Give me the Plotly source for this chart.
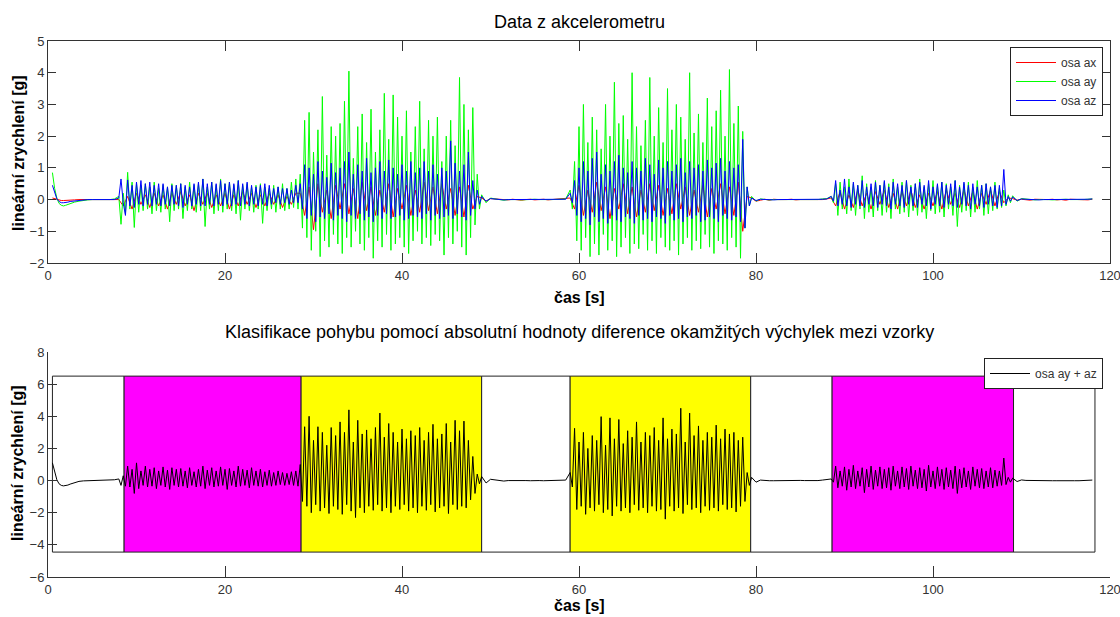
import numpy as np
import plotly.graph_objects as go

# ---------------- data ----------------
# piece start times [s] and sampling steps [s]
SEG_T0 = [0.5, 2.5, 8.0, 28.5, 49.0, 59.0, 79.5, 88.5, 109.0]
SEG_DT = [0.25, 0.5, 0.25, 0.25, 0.5, 0.25, 0.5, 0.25, 0.5]
SEG_DT_X = [0.25, 0.5, 0.5, 0.5, 0.5, 0.5, 0.5, 0.5, 0.5]

# ---- axis x (red)
ax_start = [0.05, 0.03, 0.0, -0.02, -0.03, -0.03, -0.03, -0.03]
ax_rest0 = [-0.02, -0.01, 0, 0, 0, 0, 0, 0, 0, 0, 0.01]
ax_walk1 = [0.0, -0.2, 0.1, -0.3, 0.2, -0.15, 0.15, -0.25, 0.2, -0.2,
            0.15, -0.3, 0.2, -0.15, 0.25, -0.2, 0.15, -0.35, 0.2, -0.15,
            0.2, -0.25, 0.15, -0.2, 0.2, -0.3, 0.15, -0.2, 0.25, -0.15,
            0.2, -0.25, 0.15, -0.2, 0.2, -0.15, 0.15, -0.25, 0.1, -0.15,
            0.2]
ax_run1 = [0.2, -0.5, 0.4, -0.95, 0.5, -0.4, 0.3, -0.6, 0.45, -0.3,
           0.5, -0.45, 0.35, -0.6, 0.55, -0.35, 0.4, -0.5, 0.3, -0.4,
           0.5, -0.55, 0.35, -0.3, 0.45, -0.5, 0.3, -0.4, 0.55, -0.35,
           0.4, -0.45, 0.5, -0.3, 0.35, -0.5, 0.4, -0.55, 0.45, -0.3,
           0.1]
ax_rest1 = [0.05, -0.05, 0.03, 0.02, 0.01, -0.02, -0.01, 0.01, 0, -0.02,
            0, 0.01, -0.01, 0, 0.01, -0.01, 0, 0, 0.01, 0.02]
ax_run2 = [0.05, -0.3, 0.45, -0.5, 0.3, -0.4, 0.55, -0.35, 0.4, -0.6,
           0.35, -0.3, 0.5, -0.45, 0.4, -0.55, 0.3, -0.4, 0.5, -0.35,
           0.45, -0.5, 0.35, -0.45, 0.5, -0.3, 0.4, -0.5, 0.3, -0.4,
           0.45, -0.55, 0.35, -0.3, 0.5, -0.45, 0.4, -0.5, 0.55, -1.0,
           0.1]
ax_rest2 = [0.05, -0.05, -0.02, 0.01, -0.02, 0.01, 0, -0.01, 0, 0.01,
            -0.01, 0, 0, 0.01, 0, -0.01, 0, 0.02]
ax_walk2 = [0.05, -0.2, 0.25, -0.3, 0.15, -0.25, 0.3, -0.2, 0.2, -0.3,
            0.25, -0.15, 0.3, -0.25, 0.2, -0.3, 0.25, -0.2, 0.3, -0.25,
            0.15, -0.3, 0.2, -0.2, 0.25, -0.3, 0.3, -0.15, 0.2, -0.25,
            0.3, -0.2, 0.25, -0.3, 0.2, -0.15, 0.3, -0.2, 0.25, -0.1,
            0.05]
ax_rest3 = [0.03, -0.02, 0.01, 0, -0.02, 0.01, 0, -0.01, 0, 0.01,
            -0.01, 0, -0.02, 0.01, 0, -0.01, 0, -0.01, 0.01]

# ---- axis y (green)
ay_start = [0.85, 0.35, 0.05, -0.12, -0.18, -0.2, -0.18, -0.15]
ay_rest0 = [-0.12, -0.08, -0.05, -0.02, -0.01, 0, 0, -0.01, 0, 0, 0.02]
ay_walk1_pk = [0.1, 0.2, 0.86, 0.55, 0.5, 0.45, 0.5, 0.4, 0.55, 0.35,
               0.45, 0.4, 0.5, 0.45, 0.5, 0.4, 0.55, 0.45, 0.5, 0.65,
               0.4, 0.55, 0.45, 0.65, 0.5, 0.55, 0.45, 0.6, 0.45, 0.5,
               0.4, 0.45, 0.5, 0.4, 0.35, 0.45, 0.4, 0.5, 0.35, 0.55,
               0.65]
ay_walk1_tr = [-0.78, -0.45, -0.3, -0.88, -0.4, -0.35, -0.3, -0.45, -0.35, -0.4,
               -0.3, -0.7, -0.35, -0.3, -0.6, -0.35, -0.3, -0.4, -0.35, -0.85,
               -0.3, -0.45, -0.35, -0.4, -0.3, -0.35, -0.45, -0.65, -0.3, -0.35,
               -0.4, -0.3, -0.75, -0.35, -0.3, -0.4, -0.3, -0.35, -0.3, -0.25,
               -0.3]
ay_run1_pk = [0.8, 2.5, 2.75, 1.5, 2.2, 3.25, 1.4, 2.3, 2.0, 2.4,
              3.1, 4.05, 1.3, 2.3, 2.7, 1.8, 2.85, 1.5, 2.2, 3.35,
              1.9, 3.3, 2.6, 2.0, 2.8, 1.5, 2.3, 3.1, 1.6, 2.5,
              2.0, 2.6, 1.2, 2.0, 2.5, 1.7, 3.85, 3.0, 2.2, 2.9,
              0.8]
ay_run1_tr = [-0.9, -1.2, -1.6, -1.0, -1.8, -1.3, -1.5, -1.1, -1.4, -1.7,
              -1.2, -1.5, -1.0, -1.4, -1.6, -1.2, -1.85, -1.3, -1.5, -1.1,
              -1.6, -1.4, -1.2, -1.5, -1.7, -1.3, -1.0, -1.4, -1.2, -1.45,
              -1.1, -1.3, -1.75, -1.2, -1.4, -1.0, -1.5, -1.75, -1.2, -0.8,
              -0.3]
ay_rest1 = [0.15, -0.1, 0.05, 0.02, 0, -0.02, 0, 0.01, 0, -0.01,
            0, 0, 0.01, 0, -0.01, 0, 0, 0, 0.01, 0.02]
ay_run2_pk = [0.3, 1.2, 2.3, 3.0, 1.8, 2.6, 2.2, 1.6, 3.0, 2.0,
              3.7, 2.4, 2.65, 1.9, 4.0, 2.3, 1.7, 2.5, 3.85, 2.0,
              2.9, 1.8, 3.5, 2.2, 3.0, 2.6, 1.9, 4.0, 2.1, 2.7,
              1.8, 3.2, 2.3, 2.8, 3.45, 2.0, 4.1, 2.4, 2.95, 2.15,
              0.4]
ay_run2_tr = [-0.3, -1.3, -1.6, -1.2, -1.8, -1.4, -1.75, -1.1, -1.6, -1.3,
              -1.8, -1.5, -1.2, -1.7, -1.4, -1.55, -1.1, -1.6, -1.3, -1.7,
              -1.2, -1.5, -1.6, -1.3, -1.75, -1.4, -1.2, -1.6, -1.3, -1.55,
              -1.1, -1.5, -1.7, -1.3, -1.4, -1.6, -1.2, -1.5, -1.85, -0.9,
              -0.2]
ay_rest2 = [0.1, -0.05, 0.02, 0, -0.01, 0, 0, 0.01, -0.01, 0,
            0, 0.01, 0, -0.01, 0, 0, 0.02, 0.03]
ay_walk2_pk = [0.1, 0.5, 0.55, 0.4, 0.65, 0.5, 0.45, 0.75, 0.5, 0.4,
               0.6, 0.45, 0.55, 0.5, 0.65, 0.4, 0.55, 0.6, 0.45, 0.5,
               0.65, 0.4, 0.5, 0.6, 0.45, 0.55, 0.5, 0.4, 0.6, 0.45,
               0.5, 0.55, 0.4, 0.6, 0.45, 0.5, 0.4, 0.55, 0.35, 0.3,
               0.15]
ay_walk2_tr = [-0.1, -0.5, -0.3, -0.45, -0.35, -0.5, -0.3, -0.6, -0.4, -0.55,
               -0.35, -0.5, -0.4, -0.6, -0.3, -0.45, -0.4, -0.55, -0.35, -0.5,
               -0.4, -0.6, -0.35, -0.45, -0.4, -0.55, -0.3, -0.5, -0.85, -0.4,
               -0.35, -0.55, -0.4, -0.3, -0.5, -0.45, -0.35, -0.3, -0.25, -0.2,
               -0.1]
ay_rest3 = [0.12, -0.05, 0.03, 0.01, 0, -0.01, 0, 0.01, 0, -0.01,
            0, 0, 0.01, 0, -0.01, 0, 0, 0.01, 0.02]

# ---- axis z (blue)
az_start = [0.45, 0.2, 0.02, -0.06, -0.1, -0.1, -0.1, -0.08]
az_rest0 = [-0.06, -0.04, -0.03, -0.01, 0, 0, 0, 0, 0, 0, 0]
az_walk1_pk = [0.05, -0.1, 0.62, 0.45, 0.55, 0.6, 0.5, 0.55, 0.45, 0.5,
               0.5, 0.4, 0.45, 0.45, 0.5, 0.45, 0.4, 0.5, 0.55, 0.65,
               0.5, 0.55, 0.5, 0.6, 0.5, 0.55, 0.5, 0.6, 0.5, 0.55,
               0.45, 0.4, 0.45, 0.5, 0.45, 0.35, 0.4, 0.35, 0.35, 0.3,
               0.45]
az_walk1_tr = [0.65, -0.5, -0.2, -0.25, -0.15, -0.2, -0.15, -0.2, -0.15, -0.2,
               -0.15, -0.2, -0.15, -0.2, -0.25, -0.15, -0.2, -0.15, -0.2, -0.2,
               -0.15, -0.2, -0.15, -0.2, -0.15, -0.2, -0.15, -0.2, -0.15, -0.2,
               -0.15, -0.2, -0.15, -0.2, -0.15, -0.1, -0.15, -0.1, -0.15, -0.1,
               -0.1]
az_run1_pk = [0.5, 1.1, 1.0, 0.8, 1.2, 0.9, 0.7, 1.15, 0.85, 1.0,
              1.2, 1.5, 0.8, 1.1, 0.9, 1.3, 0.85, 1.0, 1.2, 0.9,
              1.25, 1.0, 0.8, 1.1, 0.9, 1.2, 0.85, 1.0, 1.2, 0.9,
              1.1, 0.8, 1.0, 0.9, 1.85, 1.15, 0.9, 1.1, 1.5, 0.6,
              0.3]
az_run1_tr = [-0.3, -0.6, -0.5, -0.7, -0.55, -0.6, -0.45, -0.65, -0.5, -0.6,
              -0.7, -0.5, -0.6, -0.45, -0.65, -0.55, -0.7, -0.5, -0.6, -0.45,
              -0.6, -0.55, -0.5, -0.65, -0.6, -0.5, -0.55, -0.6, -0.45, -0.65,
              -0.5, -0.6, -0.55, -0.5, -0.6, -0.45, -0.55, -0.65, -0.5, -0.3,
              -0.15]
az_rest1 = [0.1, -0.05, 0.03, 0.01, 0, -0.01, 0, 0, -0.01, 0,
            0, -0.01, 0, 0, 0, -0.01, 0, 0, 0, 0.01]
az_run2_pk = [0.2, 0.6, 1.0, 1.2, 0.9, 1.3, 1.5, 0.8, 1.1, 0.9,
              1.2, 1.4, 1.0, 0.85, 1.2, 1.0, 0.9, 1.3, 1.1, 0.8,
              1.25, 1.0, 1.2, 0.9, 1.1, 1.3, 0.85, 1.2, 1.0, 1.1,
              0.9, 1.25, 1.0, 1.15, 1.3, 0.9, 1.2, 1.0, 1.1, 1.9,
              0.4]
az_run2_tr = [-0.1, -0.5, -0.7, -0.6, -0.8, -0.55, -0.7, -0.6, -0.75, -0.5,
              -0.65, -0.7, -0.55, -0.6, -0.75, -0.5, -0.65, -0.6, -0.7, -0.55,
              -0.6, -0.75, -0.5, -0.65, -0.6, -0.7, -0.55, -0.6, -0.5, -0.7,
              -0.65, -0.55, -0.6, -0.7, -0.5, -0.6, -0.65, -0.55, -0.7, -0.9,
              -0.2]
az_rest2 = [0.05, -0.03, 0.01, 0, 0, -0.01, 0, 0, 0, -0.01,
            0, 0, 0, 0, -0.01, 0, 0.01, 0.02]
az_walk2_pk = [0.1, 0.6, 0.3, 0.65, 0.4, 0.55, 0.45, 0.6, 0.4, 0.5,
               0.55, 0.45, 0.6, 0.4, 0.55, 0.5, 0.45, 0.6, 0.4, 0.5,
               0.55, 0.45, 0.6, 0.4, 0.5, 0.55, 0.45, 0.5, 0.6, 0.4,
               0.55, 0.45, 0.5, 0.4, 0.45, 0.5, 0.4, 0.45, 0.45, 0.95,
               0.1]
az_walk2_tr = [-0.05, -0.2, -0.15, -0.2, -0.25, -0.15, -0.2, -0.25, -0.15, -0.2,
               -0.25, -0.15, -0.2, -0.3, -0.15, -0.2, -0.25, -0.15, -0.2, -0.25,
               -0.15, -0.2, -0.3, -0.15, -0.2, -0.25, -0.15, -0.2, -0.25, -0.15,
               -0.2, -0.3, -0.15, -0.2, -0.25, -0.15, -0.2, -0.25, -0.2, -0.15,
               -0.05]
az_rest3 = [0.08, -0.03, 0.02, 0.01, 0, 0, -0.01, 0, 0, 0,
            -0.01, 0, 0, 0, 0, -0.01, 0, 0.01, 0.02]

# ---- osa ay + az (black, lower panel)
ayz_start = [1.1, 0.5, 0.05, -0.2, -0.3, -0.33, -0.32, -0.28]
ayz_rest0 = [-0.22, -0.12, -0.05, -0.02, -0.01, 0, 0, -0.01, 0, 0, 0.05]
ayz_walk1_pk = [0.1, 0.3, 0.9, 0.7, 1.1, 0.6, 0.9, 0.7, 0.8, 0.6,
                0.85, 0.65, 0.8, 0.7, 0.75, 0.6, 0.8, 0.55, 0.7, 0.9,
                0.65, 0.8, 0.6, 0.85, 0.7, 0.75, 0.6, 0.9, 0.7, 0.65,
                0.8, 0.6, 0.7, 0.55, 0.65, 0.5, 0.6, 0.5, 0.45, 0.55,
                0.6]
ayz_walk1_tr = [-0.3, -0.35, -0.4, -0.8, -0.5, -0.3, -0.4, -0.35, -0.5, -0.3,
                -0.4, -0.55, -0.3, -0.4, -0.35, -0.45, -0.3, -0.4, -0.35, -0.5,
                -0.3, -0.4, -0.35, -0.3, -0.55, -0.3, -0.4, -0.35, -0.3, -0.45,
                -0.3, -0.35, -0.4, -0.3, -0.35, -0.3, -0.25, -0.3, -0.25, -0.3,
                -0.35]
ayz_run1_pk = [1.0, 3.35, 4.0, 2.5, 3.35, 3.0, 2.2, 3.3, 2.8, 3.65,
               3.0, 4.4, 2.4, 3.75, 2.9, 3.15, 2.6, 3.3, 4.2, 2.7,
               3.55, 3.0, 2.4, 3.2, 2.6, 3.1, 2.8, 3.3, 2.5, 3.0,
               3.5, 2.6, 2.9, 3.55, 2.4, 3.75, 3.1, 3.7, 2.5, 1.5,
               0.4]
ayz_run1_tr = [-1.3, -1.6, -2.0, -1.5, -1.9, -1.7, -2.05, -1.6, -1.8, -2.1,
               -1.5, -1.9, -2.3, -1.7, -2.0, -1.6, -1.85, -1.5, -1.9, -1.7,
               -2.0, -1.6, -1.8, -1.5, -1.9, -1.7, -2.0, -1.6, -1.85, -1.5,
               -1.95, -1.7, -1.6, -2.05, -1.5, -1.8, -1.6, -1.7, -1.2, -0.8,
               -0.2]
ayz_rest1 = [0.25, -0.15, 0.08, 0.03, 0, -0.03, 0, 0.01, -0.01, -0.01,
             0, -0.01, 0.01, 0, -0.01, -0.01, 0, 0, 0.01, 0.03]
ayz_run2_pk = [0.5, 3.25, 2.4, 3.0, 2.0, 2.8, 2.5, 3.98, 2.2, 3.9,
               2.6, 3.8, 2.3, 3.1, 2.7, 3.65, 2.4, 3.0, 2.8, 3.3,
               2.5, 3.9, 2.6, 3.2, 2.9, 4.5, 2.4, 4.2, 2.8, 3.4,
               2.5, 3.0, 2.7, 3.45, 2.6, 3.2, 2.9, 3.0, 2.5, 2.7,
               0.5]
ayz_run2_tr = [-0.4, -1.8, -1.6, -2.1, -1.7, -1.9, -1.5, -2.0, -1.8, -2.2,
               -1.6, -1.9, -1.7, -2.0, -1.5, -1.85, -1.7, -2.0, -1.6, -1.9,
               -1.8, -2.4, -1.6, -1.9, -1.7, -2.05, -1.5, -1.8, -1.7, -2.0,
               -1.6, -1.85, -1.7, -1.9, -1.5, -1.8, -1.7, -1.95, -1.6, -1.3,
               -0.3]
ayz_rest2 = [0.2, -0.1, 0.03, 0, -0.01, -0.01, 0, 0.01, -0.01, -0.01,
             0, 0.01, 0, -0.01, -0.01, 0, 0.03, 0.05]
ayz_walk2_pk = [0.1, 0.9, 0.6, 0.85, 0.7, 0.95, 0.6, 0.8, 0.7, 0.9,
                0.65, 0.85, 0.7, 0.8, 0.9, 0.6, 0.85, 0.75, 0.9, 0.65,
                0.8, 0.7, 0.95, 0.6, 0.85, 0.7, 0.8, 0.65, 0.9, 0.7,
                0.8, 0.6, 0.85, 0.7, 0.75, 0.6, 0.8, 0.65, 0.6, 1.4,
                0.2]
ayz_walk2_tr = [-0.1, -0.45, -0.35, -0.6, -0.4, -0.5, -0.35, -0.75, -0.4, -0.55,
                -0.35, -0.5, -0.45, -0.6, -0.35, -0.5, -0.4, -0.55, -0.35, -0.5,
                -0.45, -0.65, -0.4, -0.5, -0.35, -0.55, -0.4, -0.5, -0.8, -0.45,
                -0.4, -0.55, -0.35, -0.45, -0.5, -0.4, -0.45, -0.35, -0.3, -0.25,
                -0.1]
ayz_rest3 = [0.15, -0.06, 0.04, 0.01, 0, -0.01, -0.01, 0.01, 0, -0.01,
             -0.01, 0, 0.01, 0, -0.01, -0.01, 0, 0.02, 0.03]

# movement classes (lower panel background)
class_bounds = [0.5, 8.6, 28.6, 49.0, 59.0, 79.4, 88.6, 109.1, 118.3]
class_colors = ["#ffffff", "#ff00ff", "#ffff00", "#ffffff", "#ffff00",
                "#ffffff", "#ff00ff", "#ffffff"]
class_ylim = [-4.45, 6.5]

x_ticks = [0, 20, 40, 60, 80, 100, 120]


# ---------------- helpers ----------------
def interleave(peaks, troughs):
    out = []
    for p, q in zip(peaks, troughs):
        out += [p, q]
    if len(peaks) > len(troughs):
        out.append(peaks[-1])
    return out


def build(pieces, steps):
    t, v = [], []
    for t0, dt, vals in zip(SEG_T0, steps, pieces):
        t.extend((t0 + dt * np.arange(len(vals))).tolist())
        v.extend(vals)
    return t, v


ax_t, ax_v = build([ax_start, ax_rest0, ax_walk1, ax_run1, ax_rest1, ax_run2,
                    ax_rest2, ax_walk2, ax_rest3], SEG_DT_X)
ay_t, ay_v = build([ay_start, ay_rest0, interleave(ay_walk1_pk, ay_walk1_tr),
                    interleave(ay_run1_pk, ay_run1_tr), ay_rest1,
                    interleave(ay_run2_pk, ay_run2_tr), ay_rest2,
                    interleave(ay_walk2_pk, ay_walk2_tr), ay_rest3], SEG_DT)
az_t, az_v = build([az_start, az_rest0, interleave(az_walk1_pk, az_walk1_tr),
                    interleave(az_run1_pk, az_run1_tr), az_rest1,
                    interleave(az_run2_pk, az_run2_tr), az_rest2,
                    interleave(az_walk2_pk, az_walk2_tr), az_rest3], SEG_DT)
ayz_t, ayz_v = build([ayz_start, ayz_rest0, interleave(ayz_walk1_pk, ayz_walk1_tr),
                      interleave(ayz_run1_pk, ayz_run1_tr), ayz_rest1,
                      interleave(ayz_run2_pk, ayz_run2_tr), ayz_rest2,
                      interleave(ayz_walk2_pk, ayz_walk2_tr), ayz_rest3], SEG_DT)

# ---------------- figure ----------------
W, H = 1120, 617
FONT = "Liberation Sans, Arial, Helvetica, sans-serif"


def px(x):
    return x / W


def py(y):
    return 1 - y / H


fig = go.Figure()
fig.add_trace(go.Scatter(x=ax_t, y=ax_v, mode="lines", name="osa ax",
                         line=dict(color="#ff0000", width=1),
                         xaxis="x", yaxis="y", legend="legend"))
fig.add_trace(go.Scatter(x=ay_t, y=ay_v, mode="lines", name="osa ay",
                         line=dict(color="#00ff00", width=1),
                         xaxis="x", yaxis="y", legend="legend"))
fig.add_trace(go.Scatter(x=az_t, y=az_v, mode="lines", name="osa az",
                         line=dict(color="#0000ff", width=1),
                         xaxis="x", yaxis="y", legend="legend"))
fig.add_trace(go.Scatter(x=ayz_t, y=ayz_v, mode="lines", name="osa ay + az",
                         line=dict(color="#000000", width=1),
                         xaxis="x2", yaxis="y2", legend="legend2"))

shapes = []
for i, col in enumerate(class_colors):
    shapes.append(dict(type="rect", xref="x2", yref="y2",
                       x0=class_bounds[i], x1=class_bounds[i + 1],
                       y0=class_ylim[0], y1=class_ylim[1],
                       fillcolor=col, line=dict(color="#222222", width=1),
                       layer="below"))

xdom = [px(48), px(1110)]
tickfont = dict(family=FONT, size=13, color="#333333")
axis_common = dict(showgrid=False, zeroline=False, showline=True,
                   linecolor="#333333", linewidth=1, ticks="inside",
                   tickcolor="#333333", tickfont=tickfont, automargin=False,
                   ticklabeloverflow="allow")

fig.update_layout(
    width=W, height=H,
    margin=dict(l=0, r=0, t=0, b=0, autoexpand=False),
    paper_bgcolor="white", plot_bgcolor="rgba(0,0,0,0)",
    font=dict(family=FONT, color="#000000"),
    showlegend=True,
    xaxis=dict(domain=xdom, anchor="y", range=[0, 120], tickvals=x_ticks,
               ticklen=10, mirror="ticks", **axis_common),
    yaxis=dict(domain=[py(263), py(41)], anchor="x", range=[-2, 5],
               tickvals=[-2, -1, 0, 1, 2, 3, 4, 5], ticklen=8, mirror="ticks",
               **axis_common),
    xaxis2=dict(domain=xdom, anchor="y2", range=[0, 120], tickvals=x_ticks,
                ticklen=11, **axis_common),
    yaxis2=dict(domain=[py(577), py(352)], anchor="x2", range=[-6, 8],
                tickvals=[-6, -4, -2, 0, 2, 4, 6, 8], ticklen=9, **axis_common),
    shapes=shapes,
    legend=dict(x=px(1103), y=py(47), xanchor="right", yanchor="top",
                bgcolor="white", bordercolor="#222222", borderwidth=1,
                font=dict(family=FONT, size=12, color="#333333"),
                itemwidth=40),
    legend2=dict(x=px(1103), y=py(358), xanchor="right", yanchor="top",
                 bgcolor="white", bordercolor="#222222", borderwidth=1,
                 font=dict(family=FONT, size=12, color="#333333"),
                 itemwidth=40),
    annotations=[
        dict(text="Data z akcelerometru", x=px(579), y=py(22), xref="paper",
             yref="paper", showarrow=False, xanchor="center", yanchor="middle",
             font=dict(family=FONT, size=18, color="#000000")),
        dict(text="Klasifikace pohybu pomocí absolutní hodnoty diference okamžitých výchylek mezi vzorky",
             x=px(579), y=py(332), xref="paper", yref="paper", showarrow=False,
             xanchor="center", yanchor="middle",
             font=dict(family=FONT, size=18, color="#000000")),
        dict(text="<b>čas [s]</b>", x=px(579), y=py(297), xref="paper",
             yref="paper", showarrow=False, xanchor="center", yanchor="middle",
             font=dict(family=FONT, size=16, color="#000000")),
        dict(text="<b>čas [s]</b>", x=px(579), y=py(605), xref="paper",
             yref="paper", showarrow=False, xanchor="center", yanchor="middle",
             font=dict(family=FONT, size=16, color="#000000")),
        dict(text="<b>lineární zrychlení [g]</b>", x=px(18), y=py(153),
             xref="paper", yref="paper", showarrow=False, textangle=-90,
             xanchor="center", yanchor="middle",
             font=dict(family=FONT, size=16, color="#000000")),
        dict(text="<b>lineární zrychlení [g]</b>", x=px(18), y=py(463),
             xref="paper", yref="paper", showarrow=False, textangle=-90,
             xanchor="center", yanchor="middle",
             font=dict(family=FONT, size=16, color="#000000")),
    ],
)

fig.write_html(
    "out.html",
    config={"displayModeBar": False},
    post_script="document.body.style.margin='0';document.body.style.overflow='hidden';",
)
